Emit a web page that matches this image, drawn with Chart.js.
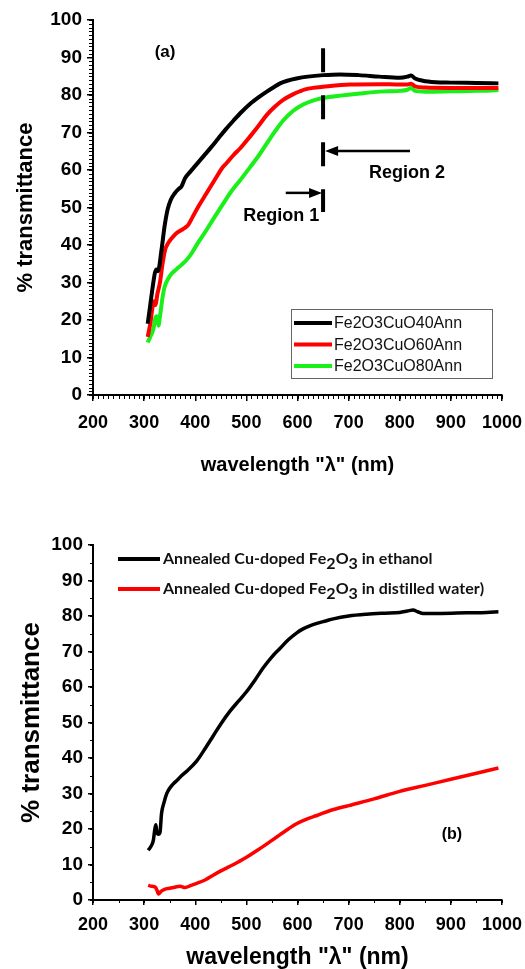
<!DOCTYPE html>
<html lang="en">
<head>
<meta charset="UTF-8">
<title>Transmittance spectra</title>
<script src="https://cdn.jsdelivr.net/npm/chart.js@4.4.1/dist/chart.umd.min.js"></script>
<style>
  html, body { margin: 0; padding: 0; background: #fff; }
  #chartA { position: absolute; left: 0; top: 0; }
  #chartB { position: absolute; left: 0; top: 490px; }
</style>
</head>
<body>
<canvas id="chartA" width="525" height="480"></canvas>
<canvas id="chartB" width="525" height="479"></canvas>
<script>
// ---- panel (a) data ----
var labelsA = ["Fe2O3CuO40Ann", "Fe2O3CuO60Ann", "Fe2O3CuO80Ann"];
var wl40 = [307, 312, 318, 321, 324, 327, 334, 340, 346, 352, 360, 368, 373, 380, 390, 400, 410, 420, 430, 445, 460, 475, 490, 507, 525, 540, 555, 566, 580, 598, 620, 650, 683, 720, 760, 800, 815, 822, 830, 845, 870, 900, 950, 993];
var t40 = [19, 24, 30, 32.5, 33.5, 33, 38.7, 45, 49.5, 52, 53.8, 55, 55.6, 57.8, 59.5, 61.1, 62.7, 64.3, 65.9, 68.4, 70.9, 73.2, 75.4, 77.6, 79.5, 80.9, 82.2, 83.1, 83.8, 84.4, 84.9, 85.3, 85.5, 85.3, 84.9, 84.6, 84.9, 85.2, 84.4, 83.8, 83.4, 83.3, 83.2, 83.1];
var wl60 = [307, 312, 316, 319, 322, 326, 331, 336, 341, 347, 354, 362, 373, 380, 386, 395, 405, 422, 440, 452, 461, 475, 488, 507, 525, 540, 555, 572, 590, 605, 615, 630, 650, 703, 761, 800, 815, 822, 830, 850, 900, 950, 993];
var t60 = [15.5, 19, 23, 25, 24, 27, 30, 35, 38.7, 40.5, 41.8, 43, 44, 44.6, 45.3, 47.5, 50, 53.8, 57.8, 60.4, 61.8, 64, 65.8, 68.9, 72, 74.7, 76.8, 78.7, 80.1, 81, 81.5, 81.9, 82.2, 82.8, 82.9, 82.8, 82.8, 83, 82.3, 82, 81.9, 81.9, 81.9];
var wl80 = [307, 312, 318, 322, 325, 328, 331, 336, 340, 347, 354, 363, 373, 383, 393, 405, 422, 438, 455, 470, 488, 507, 525, 540, 556, 572, 590, 605, 620, 640, 670, 722, 761, 800, 815, 822, 830, 850, 900, 950, 993];
var t80 = [14, 15.5, 17.5, 20.5, 21, 18.5, 21, 26, 28.8, 31, 32.4, 33.5, 34.7, 36, 37.8, 40.5, 44, 47.5, 51.1, 54.2, 57.3, 60.7, 64, 67.1, 70.3, 73.2, 75.6, 77, 78, 78.9, 79.6, 80.4, 80.9, 81.1, 81.4, 81.9, 81.1, 80.9, 81, 81.1, 81.3];

// ---- panel (b) data ----
var labelsB = ["Annealed Cu-doped Fe\u2082O\u2083 in ethanol", "Annealed Cu-doped Fe\u2082O\u2083 in distilled water)"];
var wlEth = [308, 313, 318, 321, 323, 325, 328, 331, 334, 339, 344, 350, 357, 365, 373, 385, 403, 420, 435, 450, 468, 485, 501, 517, 533, 550, 566, 582, 598, 610, 624, 638, 655, 670, 700, 735, 770, 800, 815, 826, 835, 846, 880, 931, 970, 993];
var tEth = [14, 15, 16.8, 20, 21.2, 19, 18.5, 19, 24.3, 27.5, 29.9, 31.5, 32.7, 33.8, 35, 36.5, 39.2, 42.8, 46.2, 49.6, 53.2, 56.1, 58.8, 62, 65.4, 68.5, 70.9, 73.3, 75.2, 76.3, 77.2, 77.9, 78.6, 79.2, 80, 80.5, 80.8, 81, 81.4, 81.7, 81.2, 80.7, 80.7, 80.9, 81, 81.2];
var wlWat = [308, 313, 318, 322, 325, 328, 333, 340, 350, 360, 370, 380, 392, 403, 420, 435, 450, 468, 485, 501, 517, 533, 550, 566, 582, 598, 618, 638, 664, 700, 750, 800, 850, 900, 950, 993];
var tWat = [4.2, 3.9, 3.8, 3.6, 2.8, 1.7, 2.4, 3, 3.3, 3.6, 3.9, 3.5, 4.1, 4.7, 5.7, 7, 8.2, 9.5, 10.8, 12.1, 13.6, 15.1, 16.8, 18.4, 20, 21.5, 22.8, 23.8, 25.2, 26.6, 28.5, 30.6, 32.3, 34, 35.7, 37.2];

var xTicks = { min: 200, max: 1000, step: 100 };
var yTicks = { min: 0, max: 100, step: 10 };

var SANS = "'Liberation Sans', Arial, sans-serif";

function pairs(xs, ys) {
  var out = [];
  for (var i = 0; i < xs.length; i++) out.push({ x: xs[i], y: ys[i] });
  return out;
}

function line(label, xs, ys, color, width) {
  return {
    label: label,
    data: pairs(xs, ys),
    borderColor: color,
    backgroundColor: color,
    borderWidth: width,
    pointRadius: 0,
    cubicInterpolationMode: 'monotone',
    fill: false
  };
}

// minor ticks drawn outside the axes
var minorTicks = {
  id: 'minorTicks',
  afterDraw: function (chart, args, o) {
    var ctx = chart.ctx, xs = chart.scales.x, ys = chart.scales.y;
    ctx.save();
    ctx.strokeStyle = '#000';
    ctx.lineWidth = 1;
    var n = Math.round((xs.max - xs.min) / o.xStep);
    for (var i = 0; i <= n; i++) {
      var px = Math.round(xs.getPixelForValue(xs.min + i * o.xStep)) + 0.5;
      ctx.beginPath(); ctx.moveTo(px, xs.top); ctx.lineTo(px, xs.top + o.len); ctx.stroke();
    }
    n = Math.round((ys.max - ys.min) / o.yStep);
    for (var j = 0; j <= n; j++) {
      var py = Math.round(ys.getPixelForValue(ys.min + j * o.yStep)) + 0.5;
      ctx.beginPath(); ctx.moveTo(ys.right, py); ctx.lineTo(ys.right - o.len, py); ctx.stroke();
    }
    ctx.restore();
  }
};

function arrow(ctx, x1, x2, y) {
  var dir = x2 > x1 ? 1 : -1;
  ctx.beginPath(); ctx.moveTo(x1, y); ctx.lineTo(x2 - dir * 10, y); ctx.stroke();
  ctx.beginPath();
  ctx.moveTo(x2, y);
  ctx.lineTo(x2 - dir * 13, y - 5);
  ctx.lineTo(x2 - dir * 13, y + 5);
  ctx.closePath(); ctx.fill();
}

// draws a label, turning unicode subscript digits into lowered digits
var SUB = { '\u2082': '2', '\u2083': '3' };
function richText(ctx, text, x, y, size) {
  var cx = x;
  for (var i = 0; i < text.length; i++) {
    var ch = text[i];
    if (SUB[ch]) {
      ctx.fillText(SUB[ch], cx, y + size * 0.28);
      cx += ctx.measureText(SUB[ch]).width;
    } else {
      ctx.fillText(ch, cx, y);
      cx += ctx.measureText(ch).width;
    }
  }
}

var notesA = {
  id: 'notesA',
  afterDraw: function (chart) {
    var ctx = chart.ctx, xs = chart.scales.x, ys = chart.scales.y, ca = chart.chartArea;
    ctx.save();
    ctx.fillStyle = '#000';
    ctx.strokeStyle = '#000';
    // dashed boundary at 650 nm
    ctx.lineWidth = 4;
    ctx.setLineDash([24, 23]);
    var dx = xs.getPixelForValue(650);
    ctx.beginPath(); ctx.moveTo(dx, ys.getPixelForValue(92.5)); ctx.lineTo(dx, ys.getPixelForValue(48.8)); ctx.stroke();
    ctx.setLineDash([]);
    // region arrows
    ctx.lineWidth = 2.5;
    arrow(ctx, xs.getPixelForValue(820), xs.getPixelForValue(654), ys.getPixelForValue(65.1));
    arrow(ctx, xs.getPixelForValue(577), xs.getPixelForValue(648), ys.getPixelForValue(53.9));
    // texts
    ctx.textAlign = 'center';
    ctx.textBaseline = 'middle';
    ctx.font = 'bold 17px ' + SANS;
    ctx.fillText('(a)', xs.getPixelForValue(341), ys.getPixelForValue(91.5));
    ctx.font = 'bold 18px ' + SANS;
    ctx.fillText('Region 2', xs.getPixelForValue(814), ys.getPixelForValue(59.2));
    ctx.fillText('Region 1', xs.getPixelForValue(568), ys.getPixelForValue(47.7));
    // boxed legend, lower right
    var bx = ca.right - 211, by = ca.bottom - 86;
    ctx.lineWidth = 1;
    ctx.strokeStyle = '#666';
    ctx.strokeRect(bx + 0.5, by + 0.5, 201, 69);
    ctx.textAlign = 'left';
    ctx.font = '16px ' + SANS;
    chart.data.datasets.forEach(function (ds, i) {
      var ry = by + 14 + i * 21.5;
      ctx.strokeStyle = ds.borderColor;
      ctx.lineWidth = 4;
      ctx.beginPath(); ctx.moveTo(bx + 3, ry); ctx.lineTo(bx + 41, ry); ctx.stroke();
      ctx.fillStyle = '#111';
      ctx.fillText(ds.label, bx + 43, ry + 1);
    });
    ctx.restore();
  }
};

var notesB = {
  id: 'notesB',
  afterDraw: function (chart) {
    var ctx = chart.ctx, xs = chart.scales.x, ys = chart.scales.y, ca = chart.chartArea;
    ctx.save();
    ctx.fillStyle = '#000';
    ctx.textAlign = 'center';
    ctx.textBaseline = 'middle';
    ctx.font = 'bold 16px ' + SANS;
    ctx.fillText('(b)', xs.getPixelForValue(902), ys.getPixelForValue(18.5));
    ctx.textAlign = 'left';
    ctx.font = 'bold 16px Lato, ' + SANS;
    chart.data.datasets.forEach(function (ds, i) {
      var ry = ca.top + 14 + i * 30;
      ctx.strokeStyle = ds.borderColor;
      ctx.lineWidth = 4;
      ctx.beginPath(); ctx.moveTo(ca.left + 25, ry); ctx.lineTo(ca.left + 67, ry); ctx.stroke();
      ctx.fillStyle = '#111';
      richText(ctx, ds.label, ca.left + 70, ry, 16);
    });
    ctx.restore();
  }
};

function plain(v) { return String(v); }

function axes(cfg) {
  return {
    x: {
      type: 'linear', min: xTicks.min, max: xTicks.max,
      ticks: { stepSize: xTicks.step, color: '#000', autoSkip: false, maxRotation: 0, padding: cfg.xPad,
               callback: plain, font: { family: SANS, size: 18, weight: 'bold' } },
      grid: { drawOnChartArea: false, color: '#000', lineWidth: 1.5, tickLength: cfg.tick },
      border: { color: '#000', width: 2 },
      title: { display: true, text: 'wavelength "\u03bb" (nm)', color: '#000',
               font: { family: SANS, size: cfg.xTitle, weight: 'bold', lineHeight: cfg.xLh },
               padding: { top: 0, bottom: cfg.xTitlePad } },
      afterFit: function (s) { s.height = cfg.xHeight; s.paddingLeft = 0; s.paddingRight = 0; }
    },
    y: {
      min: yTicks.min, max: yTicks.max,
      ticks: { stepSize: yTicks.step, color: '#000', padding: 5,
               callback: plain, font: { family: SANS, size: 19, weight: 'bold' } },
      grid: { drawOnChartArea: false, color: '#000', lineWidth: 1.5, tickLength: cfg.tick },
      border: { color: '#000', width: 2 },
      title: { display: true, text: '% transmittance', color: '#000',
               font: { family: SANS, size: cfg.yTitle, weight: 'bold', lineHeight: 1 },
               padding: { top: cfg.yTitlePad, bottom: 0 } },
      afterFit: function (s) { s.width = 93; s.paddingTop = 0; s.paddingBottom = 0; }
    }
  };
}

new Chart(document.getElementById('chartA'), {
  type: 'line',
  data: {
    datasets: [
      line(labelsA[0], wl40, t40, '#000000', 4),
      line(labelsA[1], wl60, t60, '#ff0000', 4),
      line(labelsA[2], wl80, t80, '#19f019', 4)
    ]
  },
  options: {
    responsive: false,
    animation: false,
    layout: { padding: { top: 20, right: 23, left: 0, bottom: 0 } },
    plugins: {
      legend: { display: false },
      tooltip: { enabled: false },
      minorTicks: { xStep: 10, yStep: 1, len: 4 }
    },
    scales: axes({ xPad: 11, tick: 6, xTitle: 20, xLh: 1.2, xTitlePad: 3, xHeight: 85, yTitle: 22, yTitlePad: 15 })
  },
  plugins: [minorTicks, notesA]
});

new Chart(document.getElementById('chartB'), {
  type: 'line',
  data: {
    datasets: [
      line(labelsB[0], wlEth, tEth, '#000000', 3.5),
      line(labelsB[1], wlWat, tWat, '#ff0000', 3.5)
    ]
  },
  options: {
    responsive: false,
    animation: false,
    layout: { padding: { top: 55, right: 23, left: 0, bottom: 0 } },
    plugins: {
      legend: { display: false },
      tooltip: { enabled: false },
      minorTicks: { xStep: 50, yStep: 5, len: 3 }
    },
    scales: axes({ xPad: 9, tick: 5, xTitle: 23, xLh: 1, xTitlePad: 0, xHeight: 69, yTitle: 26, yTitlePad: 19 })
  },
  plugins: [minorTicks, notesB]
});
</script>
</body>
</html>
